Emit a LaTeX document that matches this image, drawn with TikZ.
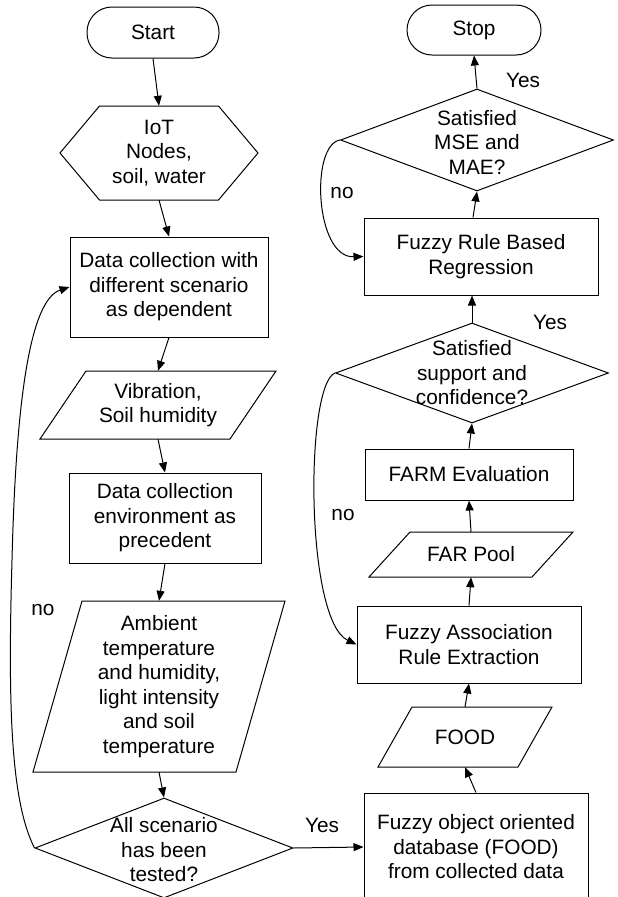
\documentclass[tikz,border=0pt]{standalone}
\usepackage{fontspec}
\setmainfont{Liberation Sans}
\usetikzlibrary{shapes.geometric,arrows.meta,calc}
\tikzset{
  ln/.style={line width=1pt},
  txt/.style={font=\fontsize{20.8}{24.5}\selectfont, align=center, inner sep=0pt},
  procbox/.style n args={2}{txt, draw, ln, rectangle, minimum width=#1, minimum height=#2},
  termbox/.style n args={2}{txt, draw, ln, rectangle, rounded corners=25pt, minimum width=#1, minimum height=#2},
  plainbox/.style n args={2}{txt, rectangle, minimum width=#1, minimum height=#2},
  decbox/.style n args={2}{draw, ln, diamond, inner sep=0pt, minimum width=#1, minimum height=#2},
  arr/.style={ln, -{Triangle[length=10pt,width=8pt]}},
  lbl/.style={txt}
}
\newcommand{\paraoutline}[4]{%
  \draw[ln] ($(#1.center)+({-#2/2+#3/2},{-#4/2})$) -- ++(#2,0) -- ++(-#3,#4) -- ++(-#2,0) -- cycle;}
\begin{document}
\begin{tikzpicture}[x=1pt,y=-1pt]
\useasboundingbox (0,0) rectangle (618,897);
\clip (0,0) rectangle (618,897);
\fill[white] (0,0) rectangle (618,897);

% left column
\node[termbox={132pt}{51pt}] (start) at (153,32.5) {Start};
\node[plainbox={198pt}{94pt}] (iot) at (159,153) {IoT\\Nodes,\\soil, water};
\draw[ln] ($(iot.center)+(-59.5,-47)$) -- ++(119,0) -- ($(iot.center)+(99,0)$) -- ($(iot.center)+(59.5,47)$) -- ++(-119,0) -- ($(iot.center)+(-99,0)$) -- cycle;
\node[procbox={198pt}{100pt}] (dc1) at (169,287) {Data collection with\\different scenario\\as dependent};
\node[plainbox={236pt}{68pt}] (vib) at (158,405) {Vibration,\\Soil humidity};
\paraoutline{vib}{190}{46}{68}
\node[procbox={192pt}{90pt}] (dc2) at (165,518) {Data collection\\environment as\\precedent};
\node[plainbox={252pt}{171pt}] (amb) at (159,686.5) {Ambient\\temperature\\and humidity,\\light intensity\\and soil\\temperature};
\paraoutline{amb}{203}{49}{171}
\node[decbox={258pt}{100pt}] (d1) at (164,848) {};
\node[txt] (d1t) at (164,850) {All scenario\\has been\\tested?};

% right column
\node[procbox={224pt}{108pt}] (fdb) at (476,847) {Fuzzy object oriented\\database (FOOD)\\from collected data};
\node[plainbox={174pt}{60pt}] (food) at (465,737) {FOOD};
\paraoutline{food}{140}{34}{60}
\node[procbox={224pt}{77pt}] (fare) at (469,644.5) {Fuzzy Association\\Rule Extraction};
\node[plainbox={204pt}{45pt}] (far) at (471,554.5) {FAR Pool};
\paraoutline{far}{163}{41}{45}
\node[procbox={208pt}{51pt}] (farm) at (469,474.5) {FARM Evaluation};
\node[decbox={273pt}{100pt}] (d2) at (472,373) {};
\node[txt] (d2t) at (472,373) {Satisfied\\support and\\confidence?};
\node[procbox={234pt}{77pt}] (frbr) at (481,256.5) {Fuzzy Rule Based\\Regression};
\node[decbox={273pt}{102pt}] (d3) at (477,140) {};
\node[txt] (d3t) at (477,142) {Satisfied\\MSE and\\MAE?};
\node[termbox={134pt}{50pt}] (stop) at (474,30) {Stop};

% labels
\node[lbl] (no1) at (43,610) {no};
\node[lbl] (yes1) at (322,825) {Yes};
\node[lbl] (yes2) at (523,80) {Yes};
\node[lbl] (no2) at (342,193) {no};
\node[lbl] (yes3) at (550,322) {Yes};
\node[lbl] (no3) at (343,515) {no};

% connectors
\draw[arr] (start.south) -- (iot.south |- iot.north);
\draw[arr] ($(iot.center)+(0,47)$) -- (dc1.north);
\draw[arr] (dc1.south) -- (vib.north);
\draw[arr] (vib.south) -- (dc2.north);
\draw[arr] (dc2.south) -- (amb.north);
\draw[arr] (amb.south) -- (d1.north);
\draw[arr] (d1.east) -- (fdb.west);
\draw[arr] (fdb.north) -- (food.south);
\draw[arr] (food.north) -- (fare.south);
\draw[arr] (fare.north) -- (far.south);
\draw[arr] (far.north) -- (farm.south);
\draw[arr] (farm.north) -- (d2.south);
\draw[arr] (d2.north) -- (d2.north |- frbr.south);
\draw[arr] ($(frbr.north)+(-8,0)$) -- (d3.south);
\draw[arr] (d3.north) -- (stop.south);
% loops
\draw[arr] (d1.west) .. controls (10,800) and (8,700) .. (12,560) .. controls (16,400) and (30,300) .. (dc1.west);
\draw[arr] (d3.west) .. controls (310,145) and (315,258) .. (frbr.west);
\draw[arr] (d2.west) .. controls (305,385) and (305,620) .. (fare.west);
\end{tikzpicture}
\end{document}
